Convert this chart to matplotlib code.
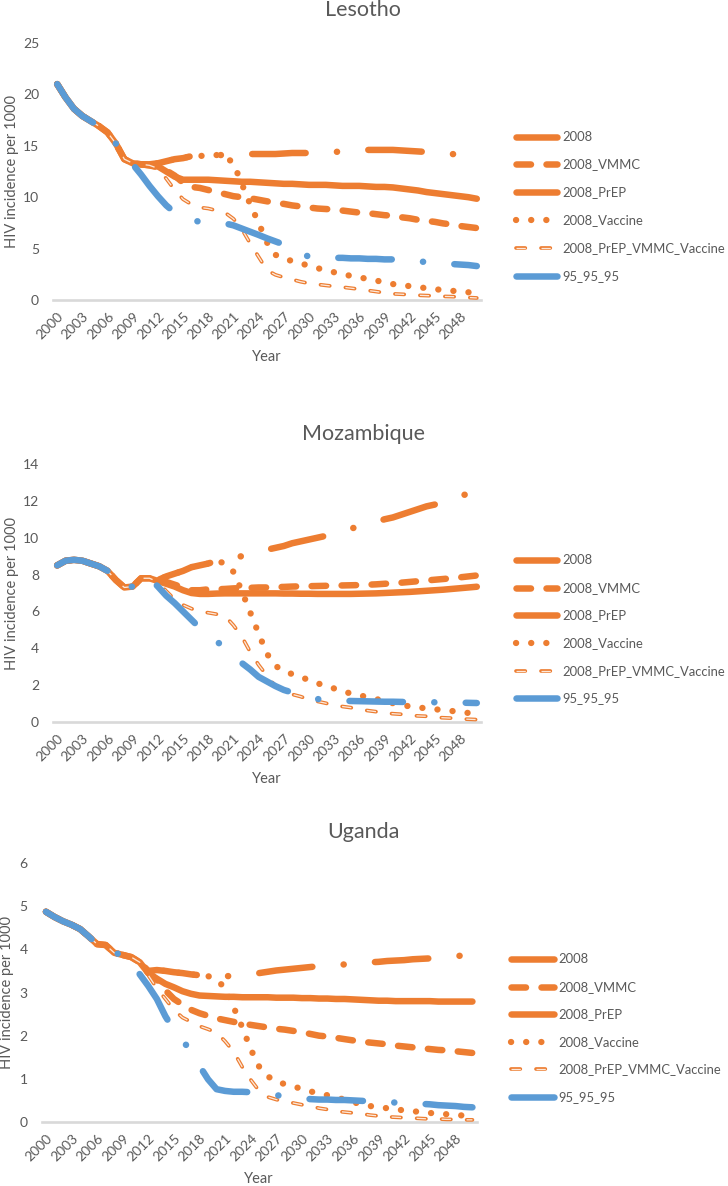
import matplotlib
matplotlib.use("Agg")
import matplotlib.pyplot as plt
from matplotlib.lines import Line2D

# ---- data (HIV incidence per 1000), one value per year 2000..2050 ----
YEARS = list(range(2000, 2051))
SERIES = ["2008", "2008_VMMC", "2008_PrEP", "2008_Vaccine", "2008_PrEP_VMMC_Vaccine", "95_95_95"]
XTICKS = list(range(2000, 2049, 3))

LES_2008 = [21.0, 19.7, 18.6, 17.9, 17.4, 16.9, 16.3, 15.2, 13.7, 13.3,
            13.2, 13.2, 13.3, 13.5, 13.7, 13.8, 14.0, 14.0, 14.1, 14.1,
            14.1, 14.1, 14.15, 14.2, 14.2, 14.2, 14.2, 14.25, 14.3, 14.3,
            14.3, 14.35, 14.4, 14.4, 14.45, 14.5, 14.55, 14.6, 14.6, 14.6,
            14.6, 14.55, 14.5, 14.45, 14.4, 14.35, 14.3, 14.2, 14.15, 14.1, 14.0]
LES_VMMC = [21.0, 19.7, 18.6, 17.9, 17.4, 16.9, 16.3, 15.2, 13.7, 13.3,
            13.2, 13.1, 12.9, 12.6, 12.1, 11.4, 11.0, 10.9, 10.7, 10.5,
            10.3, 10.1, 10.0, 9.9, 9.75, 9.6, 9.45, 9.35, 9.2, 9.1,
            9.0, 8.9, 8.85, 8.8, 8.7, 8.6, 8.5, 8.45, 8.35, 8.25,
            8.2, 8.05, 7.95, 7.8, 7.7, 7.6, 7.45, 7.35, 7.2, 7.1, 7.0]
LES_PREP = [21.0, 19.7, 18.6, 17.9, 17.4, 16.9, 16.3, 15.2, 13.7, 13.3,
            13.2, 13.1, 13.0, 12.5, 12.0, 11.7, 11.7, 11.7, 11.7, 11.65,
            11.6, 11.55, 11.5, 11.5, 11.45, 11.4, 11.35, 11.3, 11.3, 11.25,
            11.2, 11.2, 11.2, 11.15, 11.1, 11.1, 11.1, 11.05, 11.0, 11.0,
            10.95, 10.85, 10.75, 10.65, 10.5, 10.4, 10.3, 10.2, 10.1, 10.0, 9.85]
LES_VAC = [21.0, 19.7, 18.6, 17.9, 17.4, 16.9, 16.3, 15.2, 13.7, 13.3,
           13.2, 13.2, 13.3, 13.5, 13.7, 13.8, 14.0, 14.0, 14.1, 14.1,
           14.0, 13.3, 11.3, 9.3, 7.5, 5.6, 4.4, 4.0, 3.8, 3.55,
           3.35, 3.1, 2.9, 2.7, 2.5, 2.35, 2.2, 2.05, 1.9, 1.7,
           1.55, 1.45, 1.35, 1.25, 1.15, 1.05, 0.97, 0.9, 0.82, 0.75, 0.7]
LES_COMBO = [21.0, 19.7, 18.6, 17.9, 17.4, 16.9, 16.3, 15.2, 13.7, 13.3,
             13.2, 13.1, 12.8, 11.8, 10.7, 9.8, 9.3, 9.0, 8.9, 8.7,
             8.5, 7.9, 6.9, 5.5, 4.2, 2.9, 2.45, 2.2, 2.0, 1.78,
             1.62, 1.52, 1.42, 1.33, 1.25, 1.15, 1.05, 0.93, 0.82, 0.7,
             0.6, 0.56, 0.52, 0.46, 0.43, 0.4, 0.35, 0.33, 0.3, 0.24, 0.2]
LES_959595 = [21.0, 19.7, 18.6, 17.9, 17.4, 16.9, 16.3, 15.2, 13.7, 13.2,
              12.2, 11.1, 10.1, 9.2, 8.5, 8.1, 7.8, 7.6, 7.55, 7.5,
              7.45, 7.26, 6.95, 6.64, 6.33, 6.0, 5.7, 5.4, 5.0, 4.6,
              4.2, 4.15, 4.1, 4.1, 4.1, 4.05, 4.05, 4.0, 4.0, 3.95,
              3.95, 3.9, 3.8, 3.75, 3.7, 3.65, 3.6, 3.5, 3.45, 3.4, 3.3]

MOZ_2008 = [8.5, 8.75, 8.8, 8.75, 8.6, 8.45, 8.2, 7.7, 7.3, 7.35,
            7.8, 7.8, 7.7, 7.9, 8.05, 8.2, 8.4, 8.5, 8.6, 8.75,
            8.85, 8.9, 9.0, 9.1, 9.25, 9.35, 9.45, 9.55, 9.7, 9.8,
            9.9, 10.0, 10.1, 10.2, 10.35, 10.5, 10.6, 10.7, 10.85, 11.0,
            11.1, 11.25, 11.4, 11.55, 11.7, 11.8, 11.95, 12.1, 12.25, 12.4, 12.5]
MOZ_VMMC = [8.5, 8.75, 8.8, 8.75, 8.6, 8.45, 8.2, 7.7, 7.3, 7.35,
            7.8, 7.8, 7.65, 7.6, 7.45, 7.3, 7.15, 7.15, 7.2, 7.2,
            7.22, 7.25, 7.27, 7.28, 7.3, 7.3, 7.32, 7.33, 7.35, 7.36,
            7.37, 7.38, 7.39, 7.4, 7.41, 7.42, 7.43, 7.45, 7.47, 7.5,
            7.53, 7.56, 7.6, 7.64, 7.68, 7.72, 7.76, 7.8, 7.85, 7.9, 7.95]
MOZ_PREP = [8.5, 8.75, 8.8, 8.75, 8.6, 8.45, 8.2, 7.7, 7.3, 7.35,
            7.8, 7.8, 7.65, 7.5, 7.35, 7.15, 7.0, 6.95, 6.95, 6.97,
            6.98, 6.98, 6.98, 6.98, 6.98, 6.98, 6.98, 6.97, 6.97, 6.96,
            6.96, 6.95, 6.95, 6.95, 6.95, 6.95, 6.96, 6.97, 6.98, 7.0,
            7.02, 7.04, 7.06, 7.09, 7.12, 7.15, 7.18, 7.22, 7.26, 7.3, 7.34]
MOZ_VAC = [8.5, 8.75, 8.8, 8.75, 8.6, 8.45, 8.2, 7.7, 7.3, 7.35,
           7.8, 7.8, 7.7, 7.9, 8.05, 8.2, 8.4, 8.5, 8.6, 8.75,
           8.6, 8.15, 7.1, 5.95, 4.8, 3.7, 3.05, 2.76, 2.6, 2.45,
           2.27, 2.1, 1.97, 1.82, 1.66, 1.55, 1.45, 1.35, 1.25, 1.13,
           1.02, 0.92, 0.85, 0.79, 0.74, 0.69, 0.65, 0.6, 0.54, 0.49, 0.45]
MOZ_COMBO = [8.5, 8.75, 8.8, 8.75, 8.6, 8.45, 8.2, 7.7, 7.3, 7.35,
             7.8, 7.8, 7.6, 7.1, 6.65, 6.35, 6.15, 5.98, 5.93, 5.85,
             5.75, 5.25, 4.63, 3.8, 3.1, 2.5, 1.95, 1.65, 1.5, 1.38,
             1.22, 1.12, 1.02, 0.9, 0.84, 0.78, 0.68, 0.62, 0.56, 0.49,
             0.45, 0.42, 0.36, 0.33, 0.31, 0.25, 0.23, 0.21, 0.17, 0.15, 0.13]
MOZ_959595 = [8.5, 8.75, 8.8, 8.75, 8.6, 8.45, 8.2, 7.7, 7.3, 7.35,
              7.8, 7.8, 7.35, 6.85, 6.45, 6.0, 5.55, 5.1, 4.75, 4.4,
              3.95, 3.55, 3.2, 2.85, 2.45, 2.2, 1.95, 1.74, 1.6, 1.45,
              1.35, 1.25, 1.17, 1.15, 1.15, 1.14, 1.13, 1.12, 1.11, 1.1,
              1.1, 1.09, 1.08, 1.08, 1.07, 1.07, 1.07, 1.06, 1.05, 1.04, 1.03]

UGA_2008 = [4.87, 4.75, 4.65, 4.57, 4.47, 4.3, 4.12, 4.1, 3.92, 3.87,
            3.82, 3.7, 3.5, 3.52, 3.5, 3.47, 3.45, 3.42, 3.4, 3.38,
            3.38, 3.38, 3.38, 3.39, 3.42, 3.45, 3.48, 3.51, 3.53, 3.55,
            3.57, 3.59, 3.61, 3.63, 3.64, 3.65, 3.66, 3.68, 3.7, 3.71,
            3.73, 3.74, 3.75, 3.77, 3.78, 3.79, 3.8, 3.82, 3.84, 3.86, 3.88]
UGA_VMMC = [4.87, 4.75, 4.65, 4.57, 4.47, 4.3, 4.12, 4.1, 3.92, 3.87,
            3.82, 3.7, 3.45, 3.3, 3.05, 2.85, 2.72, 2.6, 2.52, 2.46,
            2.4, 2.36, 2.32, 2.28, 2.25, 2.22, 2.19, 2.16, 2.14, 2.11,
            2.08, 2.04, 2.0, 1.98, 1.95, 1.92, 1.89, 1.86, 1.84, 1.82,
            1.8, 1.77, 1.75, 1.73, 1.71, 1.69, 1.67, 1.66, 1.64, 1.62, 1.6]
UGA_PREP = [4.87, 4.75, 4.65, 4.57, 4.47, 4.3, 4.12, 4.1, 3.92, 3.87,
            3.82, 3.7, 3.45, 3.32, 3.2, 3.12, 3.03, 2.97, 2.93, 2.92,
            2.91, 2.9, 2.9, 2.89, 2.89, 2.89, 2.89, 2.88, 2.88, 2.88,
            2.87, 2.87, 2.86, 2.86, 2.85, 2.85, 2.84, 2.83, 2.82, 2.81,
            2.81, 2.8, 2.8, 2.8, 2.8, 2.8, 2.79, 2.79, 2.79, 2.79, 2.79]
UGA_VAC = [4.87, 4.75, 4.65, 4.57, 4.47, 4.3, 4.12, 4.1, 3.92, 3.87,
           3.82, 3.7, 3.5, 3.52, 3.5, 3.47, 3.45, 3.42, 3.4, 3.38,
           3.3, 3.1, 2.66, 2.2, 1.69, 1.28, 1.06, 0.93, 0.88, 0.82,
           0.77, 0.71, 0.66, 0.62, 0.57, 0.52, 0.46, 0.41, 0.37, 0.34,
           0.32, 0.29, 0.27, 0.25, 0.23, 0.21, 0.19, 0.18, 0.16, 0.15, 0.14]
UGA_COMBO = [4.87, 4.75, 4.65, 4.57, 4.47, 4.3, 4.12, 4.1, 3.92, 3.87,
             3.82, 3.7, 3.4, 3.1, 2.85, 2.6, 2.42, 2.32, 2.22, 2.15,
             2.07, 1.87, 1.63, 1.28, 0.98, 0.72, 0.58, 0.52, 0.47, 0.44,
             0.4, 0.37, 0.32, 0.29, 0.25, 0.23, 0.21, 0.19, 0.16, 0.14,
             0.12, 0.11, 0.1, 0.09, 0.08, 0.07, 0.07, 0.06, 0.06, 0.05, 0.05]
UGA_959595 = [4.87, 4.75, 4.65, 4.57, 4.47, 4.3, 4.12, 4.1, 3.92, 3.87,
              3.75, 3.42, 3.15, 2.85, 2.45, 2.13, 1.9, 1.63, 1.3, 0.99,
              0.76, 0.72, 0.7, 0.7, 0.69, 0.67, 0.64, 0.62, 0.6, 0.57,
              0.55, 0.53, 0.52, 0.52, 0.51, 0.51, 0.5, 0.49, 0.48, 0.47,
              0.46, 0.45, 0.44, 0.43, 0.42, 0.41, 0.39, 0.38, 0.37, 0.35, 0.34]

COUNTRIES = ["Lesotho", "Mozambique", "Uganda"]
COUNTRY_DATA = {
    "Lesotho": [LES_2008, LES_VMMC, LES_PREP, LES_VAC, LES_COMBO, LES_959595],
    "Mozambique": [MOZ_2008, MOZ_VMMC, MOZ_PREP, MOZ_VAC, MOZ_COMBO, MOZ_959595],
    "Uganda": [UGA_2008, UGA_VMMC, UGA_PREP, UGA_VAC, UGA_COMBO, UGA_959595],
}
Y_MAX = {"Lesotho": 25, "Mozambique": 14, "Uganda": 6}
Y_STEP = {"Lesotho": 5, "Mozambique": 2, "Uganda": 1}

# ---- styling ----
W, H = 728, 1186
PX = 0.72  # points per pixel at dpi=100
ORANGE = "#ED7D31"
BLUE = "#5B9BD5"
GREY = "#595959"
AXIS_GREY = "#D9D9D9"
FONT = ["Lato", "DejaVu Sans"]

plt.rcParams["font.family"] = FONT
plt.rcParams["lines.scale_dashes"] = False

LW = 6.5 * PX
LG_DASH_DOT = (53.5 * PX, 31.3 * PX, 0.1, 31.3 * PX)
COMMON = dict(solid_capstyle="round", dash_capstyle="round",
              solid_joinstyle="round", dash_joinstyle="round")
STYLES = [
    [dict(color=ORANGE, lw=LW, dashes=LG_DASH_DOT)],
    [dict(color=ORANGE, lw=LW, dashes=(14.5 * PX, 15.5 * PX))],
    [dict(color=ORANGE, lw=LW, ls="-")],
    [dict(color=ORANGE, lw=6.3 * PX, dashes=(0.1, 15 * PX))],
    [dict(color=ORANGE, lw=3.7 * PX, dashes=(9.3 * PX, 15.7 * PX)),
     dict(color="#FCE8DA", lw=1.3 * PX, dashes=(9.3 * PX, 15.7 * PX), dash_capstyle="butt")],
    [dict(color=BLUE, lw=LW, dashes=LG_DASH_DOT)],
]


def style_kw(s):
    kw = dict(COMMON)
    kw.update(s)
    return kw


# layout in pixels: plot left, right, top (y max), bottom (y=0)
LAYOUT = {
    "Lesotho": dict(left=53, right=481, top=43, bottom=300, title_y=16, ylab_x=12.5,
                    leg_x0=513, leg_x1=560, leg_text=562, leg_y=[137, 164, 192, 220, 248, 276]),
    "Mozambique": dict(left=53, right=481, top=464, bottom=722, title_y=440, ylab_x=12,
                       leg_x0=513, leg_x1=560, leg_text=562, leg_y=[560, 588, 615, 643, 671, 698]),
    "Uganda": dict(left=41.7, right=476.7, top=863, bottom=1122, title_y=838, ylab_x=7,
                   leg_x0=508, leg_x1=557, leg_text=558, leg_y=[959, 987, 1014, 1042, 1069, 1097]),
}

fig = plt.figure(figsize=(W / 100, H / 100), dpi=100)

for name in COUNTRIES:
    L = LAYOUT[name]
    ax = fig.add_axes([L["left"] / W, 1 - L["bottom"] / H,
                       (L["right"] - L["left"]) / W, (L["bottom"] - L["top"]) / H])
    for values, layers in zip(COUNTRY_DATA[name], STYLES):
        for s in layers:
            ax.plot(YEARS, values, clip_on=False, **style_kw(s))

    ax.set_xlim(1999.5, 2050.5)
    ax.set_ylim(0, Y_MAX[name])
    ax.set_yticks(range(0, Y_MAX[name] + 1, Y_STEP[name]))
    ax.set_xticks(XTICKS)
    ax.set_xticklabels([str(y) for y in XTICKS], rotation=45, ha="right", va="top",
                       rotation_mode="anchor")
    ax.tick_params(axis="both", length=0, labelsize=10, labelcolor=GREY)
    ax.tick_params(axis="x", pad=7)
    ax.tick_params(axis="y", pad=10)
    for side in ("top", "right", "left"):
        ax.spines[side].set_visible(False)
    ax.spines["bottom"].set_color(AXIS_GREY)
    ax.spines["bottom"].set_linewidth(1.9)
    ax.spines["bottom"].set_zorder(0.5)
    ax.patch.set_alpha(0)

    # titles and axis labels
    fig.text(363 / W, 1 - L["title_y"] / H, name, ha="center", va="baseline",
             fontsize=15.5, color=GREY)
    fig.text(L["ylab_x"] / W, 1 - (L["top"] + L["bottom"]) / 2 / H, "HIV incidence per 1000",
             rotation=90, ha="center", va="center", fontsize=10.5, color=GREY)
    fig.text((L["left"] + L["right"]) / 2 / W, 1 - (L["bottom"] + 61) / H, "Year",
             ha="center", va="baseline", fontsize=10.5, color=GREY)

    # legend
    for label, layers, y in zip(SERIES, STYLES, L["leg_y"]):
        yf = 1 - y / H
        for s in layers:
            fig.add_artist(Line2D([(L["leg_x0"] + 3.25) / W, (L["leg_x1"] - 3.25) / W], [yf, yf],
                                  transform=fig.transFigure, **style_kw(s)))
        fig.text(L["leg_text"] / W, yf, label, ha="left", va="center", fontsize=9.4, color=GREY)

fig.savefig("out.png", dpi=100)
